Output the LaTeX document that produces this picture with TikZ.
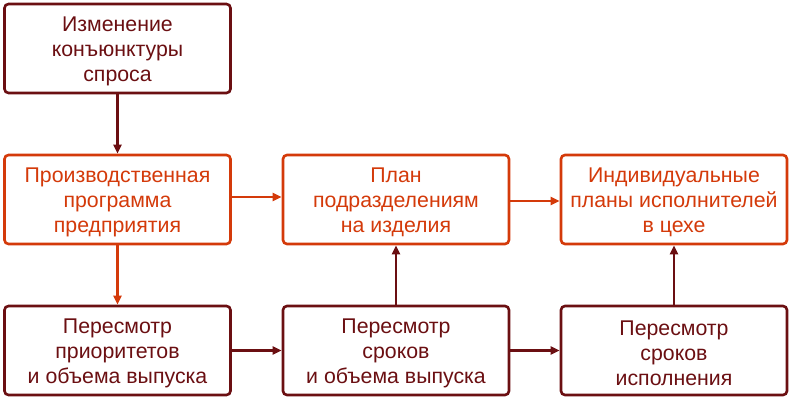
\documentclass[tikz,border=0pt]{standalone}
\usepackage{fontspec}
\setmainfont{Liberation Sans}
\usetikzlibrary{arrows.meta}
\definecolor{dk}{HTML}{6B0F12}
\definecolor{orn}{HTML}{D43A0A}
\tikzset{
  box/.style={draw, line width=2.6pt, rounded corners=4pt, fill=white, minimum width=226pt, minimum height=89pt, inner sep=0pt},
  txt/.style={align=center, font=\fontsize{21.3}{25}\selectfont, inner sep=0pt, yshift=-2.5pt},
  dkbox/.style={box, draw=dk},
  orbox/.style={box, draw=orn},
  dktxt/.style={txt, text=dk},
  ortxt/.style={txt, text=orn},
  dkarr/.style={draw=dk, line width=2.6pt, -{Triangle[length=9pt,width=8pt]}},
  orarr/.style={draw=orn, line width=2.6pt, -{Triangle[length=9pt,width=8pt]}}
}
\begin{document}
\begin{tikzpicture}[x=1pt,y=1pt]
\useasboundingbox (0,0) rectangle (790,400);
\node[dkbox] (top) at (117.5,351.5) {};
\node[orbox] (p1) at (117.5,200.5) {};
\node[orbox] (p2) at (396,200.5) {};
\node[orbox] (p3) at (674,200.5) {};
\node[dkbox] (r1) at (117.5,49.5) {};
\node[dkbox] (r2) at (396,49.5) {};
\node[dkbox] (r3) at (674,49.5) {};
\node[dktxt] (topt) at (top.center) {Изменение\\конъюнктуры\\спроса};
\node[ortxt] (p1t) at (p1.center) {Производственная\\программа\\предприятия};
\node[ortxt] (p2t) at (p2.center) {План\\подразделениям\\на изделия};
\node[ortxt] (p3t) at (p3.center) {Индивидуальные\\планы исполнителей\\в цехе};
\node[dktxt] (r1t) at (r1.center) {Пересмотр\\приоритетов\\и объема выпуска};
\node[dktxt] (r2t) at (r2.center) {Пересмотр\\сроков\\и объема выпуска};
\node[dktxt] (r3t) at (r3.center) {Пересмотр\\сроков\\исполнения};
\draw[dkarr] (top) -- (p1);
\draw[orarr] (p1.east |- 0,203) -- (p2.west |- 0,203);
\draw[orarr] (p2.east |- 0,199) -- (p3.west |- 0,199);
\draw[orarr] (p1) -- (r1);
\draw[dkarr] (r1) -- (r2);
\draw[dkarr] (r2) -- (r3);
\draw[dkarr] (r2) -- (p2);
\draw[dkarr] (r3) -- (p3);
\end{tikzpicture}
\end{document}
